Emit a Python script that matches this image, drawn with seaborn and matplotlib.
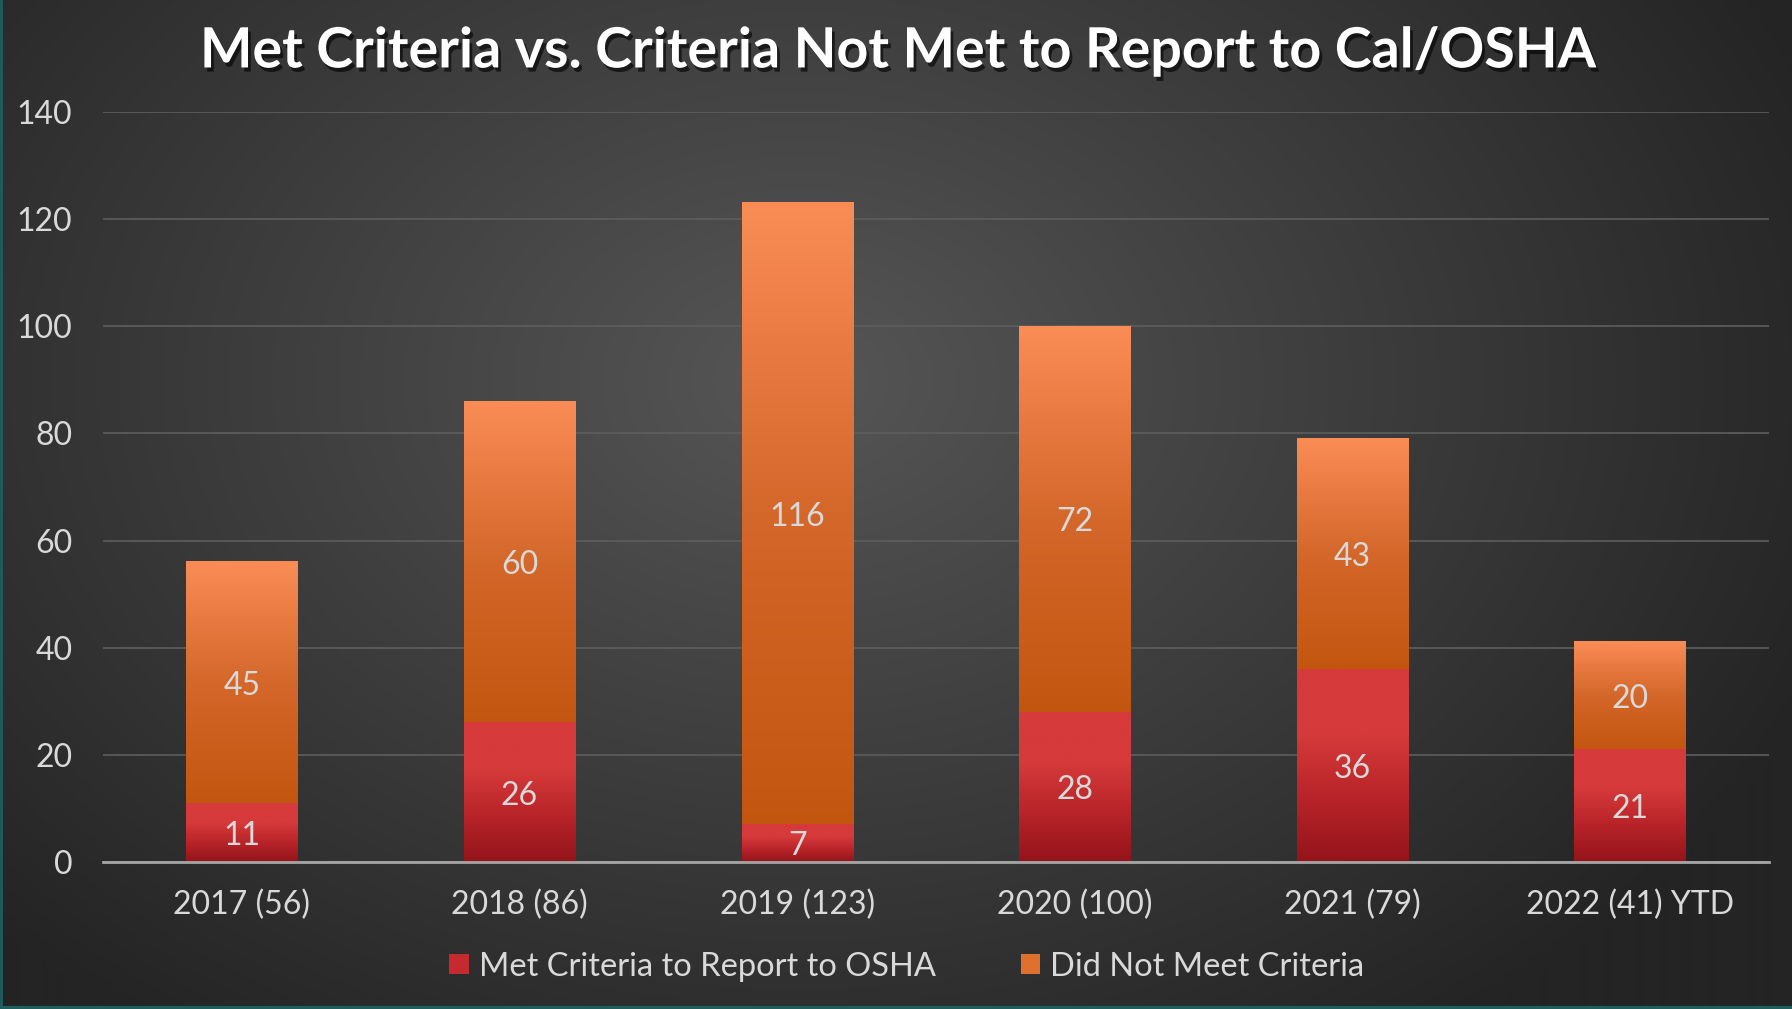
import numpy as np
import pandas as pd
import matplotlib
matplotlib.use("Agg")
import matplotlib.pyplot as plt
import seaborn as sns
from matplotlib import patheffects
from matplotlib.colors import LinearSegmentedColormap, to_rgb
from matplotlib.patches import Patch
from matplotlib.lines import Line2D

# chart data
years = ["2017 (56)", "2018 (86)", "2019 (123)", "2020 (100)", "2021 (79)", "2022 (41) YTD"]
met_criteria = [11, 26, 7, 28, 36, 21]
not_met = [45, 60, 116, 72, 43, 20]
series_names = ["Met Criteria to Report to OSHA", "Did Not Meet Criteria"]
y_ticks = [0, 20, 40, 60, 80, 100, 120, 140]

df = pd.DataFrame({"year": years, "met": met_criteria, "not_met": not_met})
df["total"] = df["met"] + df["not_met"]

TEXT = "#D9D9D9"
RED_TOP, RED_BOT = "#D63A3A", "#93141A"
ORG_TOP, ORG_BOT = "#FA8C56", "#C3560F"

sns.set_theme(style="dark")
plt.rcParams["font.family"] = ["Lato", "DejaVu Sans"]

fig = plt.figure(figsize=(17.92, 10.09), dpi=100)

# radial gradient background
bg = fig.add_axes([0, 0, 1, 1], zorder=-10)
yy, xx = np.mgrid[0:1009, 0:1792]
r = np.sqrt(((xx - 800) / 1100.0) ** 2 + ((yy - 380) / 800.0) ** 2)
r = np.clip(r, 0, 1)
c0, c1 = np.array(to_rgb("#565656")), np.array(to_rgb("#242424"))
img = c0[None, None, :] * (1 - r[..., None]) + c1[None, None, :] * r[..., None]
bg.imshow(img, aspect="auto", extent=[0, 1, 0, 1], origin="upper")
bg.axis("off")

ax = fig.add_axes([0.0575, 0.1457, 0.9295, 0.7433])
ax.set_facecolor("none")

sns.barplot(data=df, x="year", y="total", color=ORG_BOT, width=0.4, ax=ax,
            saturation=1, linewidth=0, zorder=3)
sns.barplot(data=df, x="year", y="met", color=RED_BOT, width=0.4, ax=ax,
            saturation=1, linewidth=0, zorder=3)

n = len(years)
org_cmap = LinearSegmentedColormap.from_list("org", [ORG_BOT, "#D4672A", ORG_TOP])
red_cmap = LinearSegmentedColormap.from_list("red", [RED_BOT, "#B82429", RED_TOP, RED_TOP])
grad = np.linspace(0, 1, 256).reshape(-1, 1)

for i, p in enumerate(ax.patches):
    x, w = p.get_x(), p.get_width()
    p.set_path_effects([patheffects.SimplePatchShadow(offset=(0, 0), alpha=0.35, shadow_rgbFace="black"),
                        patheffects.Normal()])
    if i < n:
        # orange part drawn from top of red to total
        y0, y1 = met_criteria[i], df["total"][i]
        cmap = org_cmap
    else:
        y0, y1 = 0, met_criteria[i - n]
        cmap = red_cmap
    ax.imshow(grad, cmap=cmap, extent=[x, x + w, y0, y1], origin="lower",
              aspect="auto", zorder=4)

# segment labels
for i in range(n):
    ax.text(i, met_criteria[i] / 2 - 0.6, str(met_criteria[i]), ha="center", va="center",
            color=TEXT, fontsize=23, zorder=6)
    ax.text(i, met_criteria[i] + not_met[i] / 2 - 0.6, str(not_met[i]), ha="center", va="center",
            color=TEXT, fontsize=23, zorder=6)

ax.set_xlim(-0.5, n - 0.5)
ax.set_ylim(0, 140)
ax.set_yticks(y_ticks)
ax.set_xlabel("")
ax.set_ylabel("")
ax.tick_params(axis="both", length=0, colors=TEXT, labelsize=23)
ax.tick_params(axis="x", pad=20)
ax.tick_params(axis="y", pad=22)
ax.grid(axis="y", color="#5E5E5E", linewidth=1.2, zorder=0)
ax.grid(axis="x", visible=False)
for s in ["top", "right", "left"]:
    ax.spines[s].set_visible(False)
ax.spines["bottom"].set_color("#A6A6A6")
ax.spines["bottom"].set_linewidth(2)
ax.spines["bottom"].set_zorder(7)

# title
fig.text(0.501, 0.949, "Met Criteria vs. Criteria Not Met to Report to Cal/OSHA",
         ha="center", va="center", color="white", fontsize=40, fontweight="bold",
         path_effects=[patheffects.withSimplePatchShadow(offset=(2, -3), alpha=0.6,
                                                         shadow_rgbFace="black")])

# legend
handles = [Patch(facecolor="#C42A2E", edgecolor="none"), Patch(facecolor="#E0702E", edgecolor="none")]
leg = fig.legend(handles, series_names, loc="center", bbox_to_anchor=(0.506, 0.042), ncol=2,
                 frameon=False, fontsize=23.5, handlelength=0.6, handleheight=0.6,
                 handletextpad=0.3, columnspacing=2.6)
for t in leg.get_texts():
    t.set_color(TEXT)

# thin teal frame edges
fig.add_artist(Line2D([0.0008, 0.0008], [0, 1], color="#1E5E5E", linewidth=2, transform=fig.transFigure))
fig.add_artist(Line2D([0, 1], [0.001, 0.001], color="#1E5E5E", linewidth=3, transform=fig.transFigure))

fig.savefig("out.png", dpi=100)
